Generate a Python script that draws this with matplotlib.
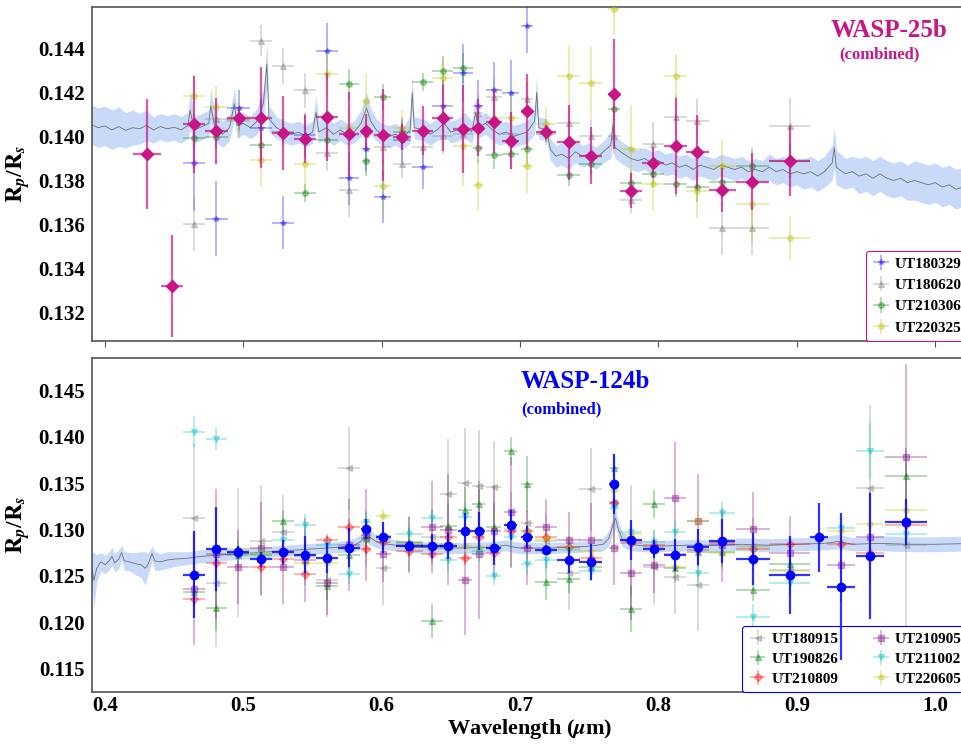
import matplotlib
matplotlib.use("Agg")
import matplotlib.pyplot as plt
import numpy as np

nan = np.nan

# ---------------- WASP-25b (top panel) ----------------
w25_wl = [0.4304, 0.4484, 0.4646, 0.4805, 0.4966, 0.5125, 0.5284, 0.5446, 0.5605, 0.5764,
          0.5887, 0.6007, 0.6147, 0.6297, 0.6441, 0.6586, 0.6699, 0.6810, 0.6931, 0.7051,
          0.7189, 0.7350, 0.7509, 0.7678, 0.7803, 0.7962, 0.8124, 0.8280, 0.8461, 0.8678,
          0.8948]
w25_xerr = [0.0103, 0.0080, 0.0080, 0.0084, 0.0084, 0.0080, 0.0080, 0.0080, 0.0080, 0.0072,
            0.0031, 0.0060, 0.0067, 0.0075, 0.0075, 0.0072, 0.0036, 0.0060, 0.0060, 0.0045,
            0.0072, 0.0080, 0.0084, 0.0042, 0.0080, 0.0080, 0.0082, 0.0082, 0.0097, 0.0120,
            0.0147]
w25_comb = [0.13921, 0.13320, 0.14055, 0.14024, 0.14086, 0.14085, 0.14016, 0.13988, 0.14088, 0.14012,
            0.14023, 0.14006, 0.13998, 0.14027, 0.14083, 0.14032, 0.14039, 0.14066, 0.13980, 0.14115,
            0.14020, 0.13974, 0.13912, 0.14192, 0.13753, 0.13880, 0.13957, 0.13929, 0.13756, 0.13794,
            0.13888]
w25_comb_err = [0.0025, 0.0023, 0.0022, 0.0015, 0.0004, 0.0023, 0.0017, 0.0011, 0.0020, 0.0019,
                0.0008, 0.0021, 0.0006, 0.0011, 0.0015, 0.0020, 0.0013, 0.0014, 0.0013, 0.0017,
                0.0003, 0.0017, 0.0013, 0.0025, 0.0008, 0.0007, 0.0022, 0.0017, 0.0010, 0.0013,
                0.0016]

w25_nights = ["UT180329", "UT180620", "UT210306", "UT220325"]
w25_colors = ["blue", "grey", "green", "y"]
w25_markers = ["*", "^", "o", "o"]
w25_vals = [
    [nan, nan, 0.13880, 0.13626, 0.14130, 0.14039, 0.13607, 0.14006, 0.14388, 0.13810,
     0.13942, 0.13725, 0.13983, 0.13862, 0.14138, 0.14289, 0.14138, 0.14210, 0.14198, 0.14501,
     nan, nan, nan, nan, nan, nan, nan, nan, nan, nan, nan],
    [nan, nan, 0.13601, 0.14080, 0.14070, 0.14435, 0.14321, 0.14210, 0.13925, 0.13755,
     0.14010, 0.13953, 0.13873, 0.13953, 0.14000, 0.14010, 0.14107, 0.14180, 0.14010, 0.14170,
     0.14020, 0.14062, 0.14000, 0.14000, 0.13710, 0.13965, 0.14089, 0.14071, 0.13582, 0.13582,
     0.14047],
    [nan, nan, 0.13991, 0.13998, 0.14080, 0.13959, 0.14021, 0.13744, 0.13982, 0.14238,
     0.13889, 0.14180, 0.14020, 0.14248, 0.14298, 0.14312, 0.13948, 0.13914, 0.13920, 0.13945,
     0.14013, 0.13825, 0.13877, 0.14123, 0.13788, 0.13829, 0.13786, 0.13771, 0.13794, 0.13866,
     0.13889],
    [nan, nan, 0.14185, 0.14135, 0.14073, 0.13892, nan, 0.13875, 0.14286, 0.14040,
     0.14162, 0.13774, 0.14040, nan, 0.14264, 0.13956, 0.13779, 0.14082, 0.14082, 0.13865,
     0.14056, 0.14275, 0.14245, 0.14582, 0.13941, 0.13782, 0.14274, 0.13751, 0.13866, 0.13692,
     0.13536],
]
w25_errs = [
    [nan, nan, 0.0022, 0.0017, 0.0008, 0.0013, 0.0012, 0.0010, 0.0013, 0.0012,
     0.0010, 0.0012, 0.0010, 0.0010, 0.0012, 0.0013, 0.0012, 0.0013, 0.0015, 0.0012,
     nan, nan, nan, nan, nan, nan, nan, nan, nan, nan, nan],
    [nan, nan, 0.0012, 0.0008, 0.0006, 0.0007, 0.0008, 0.0008, 0.0008, 0.0012,
     0.0006, 0.0008, 0.0006, 0.0008, 0.0008, 0.0008, 0.0008, 0.0008, 0.0008, 0.0008,
     0.0006, 0.0008, 0.0008, 0.0008, 0.0006, 0.0010, 0.0010, 0.0010, 0.0012, 0.0012,
     0.0013],
    [nan, nan, 0.0005, 0.0005, 0.0005, 0.0007, 0.0006, 0.0004, 0.0005, 0.0007,
     0.0007, 0.0006, 0.0005, 0.0004, 0.0007, 0.0007, 0.0007, 0.0006, 0.0007, 0.0007,
     0.0004, 0.0005, 0.0005, 0.0005, 0.0006, 0.0006, 0.0006, 0.0007, 0.0008, 0.0008,
     0.0008],
    [nan, nan, 0.0010, 0.0010, 0.0008, 0.0012, nan, 0.0012, 0.0010, 0.0010,
     0.0012, 0.0012, 0.0008, nan, 0.0008, 0.0018, 0.0012, 0.0012, 0.0012, 0.0012,
     0.0008, 0.0014, 0.0016, 0.0012, 0.0020, 0.0012, 0.0010, 0.0012, 0.0012, 0.0018,
     0.0010],
]

w25_mod_wl = [0.390, 0.395, 0.400, 0.405, 0.410, 0.415, 0.420, 0.425, 0.430, 0.435,
              0.440, 0.445, 0.450, 0.455, 0.460, 0.4615, 0.4645, 0.470, 0.475, 0.4765,
              0.4795, 0.485, 0.490, 0.4935, 0.4955, 0.500, 0.505, 0.510, 0.5145, 0.517,
              0.5185, 0.524, 0.530, 0.535, 0.540, 0.545, 0.550, 0.5525, 0.5545, 0.560,
              0.565, 0.570, 0.575, 0.580, 0.585, 0.589, 0.592, 0.596, 0.600, 0.605,
              0.610, 0.615, 0.6205, 0.622, 0.6235, 0.630, 0.635, 0.640, 0.645, 0.650,
              0.655, 0.660, 0.665, 0.668, 0.6695, 0.675, 0.680, 0.685, 0.690, 0.695,
              0.700, 0.705, 0.7105, 0.712, 0.7135, 0.719, 0.722, 0.726, 0.730, 0.735,
              0.740, 0.745, 0.750, 0.755, 0.760, 0.7655, 0.767, 0.7685, 0.775, 0.780,
              0.785, 0.790, 0.795, 0.800, 0.805, 0.810, 0.815, 0.820, 0.825, 0.830,
              0.835, 0.840, 0.845, 0.850, 0.855, 0.860, 0.865, 0.870, 0.875, 0.880,
              0.885, 0.890, 0.895, 0.900, 0.905, 0.910, 0.915, 0.920, 0.9255, 0.927,
              0.9285, 0.935, 0.940, 0.945, 0.950, 0.955, 0.960, 0.965, 0.970, 0.975,
              0.980, 0.985, 0.990, 0.995, 1.000, 1.005, 1.010, 1.015, 1.020, 1.030]
w25_mod = [0.14055, 0.14040, 0.14048, 0.14030, 0.14045, 0.14028, 0.14040, 0.14035, 0.14050, 0.14030,
           0.14045, 0.14035, 0.14042, 0.14030, 0.14050, 0.14120, 0.14030, 0.14045, 0.14060, 0.14140,
           0.14040, 0.14010, 0.14040, 0.14150, 0.14050, 0.14060, 0.14040, 0.14070, 0.14150, 0.14330,
           0.14080, 0.14040, 0.14020, 0.14010, 0.14020, 0.14000, 0.14020, 0.14110, 0.14020, 0.14040,
           0.14010, 0.14030, 0.14010, 0.14020, 0.14060, 0.14130, 0.14070, 0.14030, 0.14010, 0.14000,
           0.14010, 0.13990, 0.14030, 0.14200, 0.14040, 0.14030, 0.14010, 0.14030, 0.14060, 0.14020,
           0.14030, 0.14050, 0.14020, 0.14110, 0.14040, 0.14060, 0.14030, 0.14010, 0.14020, 0.14000,
           0.14010, 0.14020, 0.14070, 0.14200, 0.14040, 0.14030, 0.13940, 0.13910, 0.13920, 0.13900,
           0.13930, 0.13910, 0.13920, 0.13900, 0.13930, 0.13960, 0.14050, 0.13950, 0.13920, 0.13900,
           0.13890, 0.13900, 0.13880, 0.13890, 0.13870, 0.13880, 0.13860, 0.13870, 0.13850, 0.13870,
           0.13860, 0.13850, 0.13870, 0.13860, 0.13850, 0.13860, 0.13840, 0.13850, 0.13840, 0.13860,
           0.13840, 0.13850, 0.13830, 0.13840, 0.13830, 0.13840, 0.13820, 0.13840, 0.13880, 0.13950,
           0.13860, 0.13830, 0.13840, 0.13820, 0.13830, 0.13810, 0.13830, 0.13810, 0.13800, 0.13810,
           0.13790, 0.13800, 0.13790, 0.13780, 0.13790, 0.13770, 0.13780, 0.13760, 0.13770, 0.13750]
w25_mod_err = [0.0009, 0.0009, 0.0009, 0.0009, 0.0009, 0.0008, 0.0008, 0.0007, 0.0007, 0.0006,
               0.0006, 0.0006, 0.0006, 0.0006, 0.0006, 0.0009, 0.0006, 0.0006, 0.0006, 0.0008,
               0.0006, 0.0006, 0.0006, 0.0007, 0.0006, 0.0005, 0.0005, 0.0006, 0.0007, 0.0010,
               0.0006, 0.0005, 0.0005, 0.0005, 0.0005, 0.0005, 0.0005, 0.0007, 0.0005, 0.0005,
               0.0005, 0.0005, 0.0005, 0.0005, 0.0006, 0.0007, 0.0006, 0.0005, 0.0005, 0.0005,
               0.0005, 0.0005, 0.0006, 0.0008, 0.0005, 0.0005, 0.0005, 0.0005, 0.0006, 0.0005,
               0.0005, 0.0006, 0.0005, 0.0007, 0.0005, 0.0005, 0.0005, 0.0005, 0.0005, 0.0005,
               0.0005, 0.0005, 0.0006, 0.0008, 0.0005, 0.0005, 0.0005, 0.0005, 0.0005, 0.0005,
               0.0005, 0.0005, 0.0005, 0.0005, 0.0005, 0.0006, 0.0007, 0.0005, 0.0005, 0.0005,
               0.0005, 0.0005, 0.0005, 0.0005, 0.0005, 0.0005, 0.0005, 0.0005, 0.0005, 0.0005,
               0.0005, 0.0005, 0.0005, 0.0005, 0.0005, 0.0005, 0.0005, 0.0005, 0.0005, 0.0006,
               0.0006, 0.0006, 0.0006, 0.0006, 0.0007, 0.0007, 0.0007, 0.0007, 0.0008, 0.0009,
               0.0008, 0.0007, 0.0007, 0.0008, 0.0008, 0.0008, 0.0008, 0.0008, 0.0008, 0.0008,
               0.0008, 0.0009, 0.0009, 0.0009, 0.0009, 0.0009, 0.0009, 0.0009, 0.0009, 0.0009]

# ---------------- WASP-124b (bottom panel) ----------------
w124_wl = [0.4644, 0.4805, 0.4964, 0.5125, 0.5284, 0.5446, 0.5605, 0.5764, 0.5889, 0.6012,
           0.6200, 0.6362, 0.6482, 0.6600, 0.6701, 0.6810, 0.6931, 0.7051, 0.7189, 0.7350,
           0.7509, 0.7678, 0.7803, 0.7965, 0.8121, 0.8283, 0.8459, 0.8683, 0.8948, 0.9160,
           0.9319, 0.9529, 0.9787]
w124_xerr = [0.0080, 0.0076, 0.0080, 0.0080, 0.0080, 0.0080, 0.0080, 0.0080, 0.0036, 0.0054,
             0.0096, 0.0080, 0.0060, 0.0050, 0.0046, 0.0054, 0.0045, 0.0042, 0.0080, 0.0080,
             0.0080, 0.0034, 0.0080, 0.0080, 0.0080, 0.0080, 0.0095, 0.0120, 0.0147, 0.0066,
             0.0100, 0.0100, 0.0150]
w124_comb = [0.12509, 0.12790, 0.12757, 0.12678, 0.12761, 0.12728, 0.12692, 0.12804, 0.13003, 0.12916,
             0.12826, 0.12822, 0.12822, 0.12984, 0.12984, 0.12804, 0.13049, 0.12923, 0.12782, 0.12667,
             0.12649, 0.13492, 0.12887, 0.12787, 0.12725, 0.12811, 0.12876, 0.12685, 0.12505, 0.12916,
             0.12383, 0.12718, 0.13078]
w124_comb_err = [0.0047, 0.0045, 0.0006, 0.0008, 0.0013, 0.0020, 0.0016, 0.0021, 0.0011, 0.0017,
                 0.0005, 0.0013, 0.0014, 0.0019, 0.0021, 0.0019, 0.0016, 0.0012, 0.0005, 0.0014,
                 0.0019, 0.0032, 0.0022, 0.0010, 0.0017, 0.0019, 0.0024, 0.0028, 0.0042, 0.0037,
                 0.0079, 0.0068, 0.0025]

w124_nights = ["UT180915", "UT190826", "UT210809", "UT210905", "UT211002", "UT220605"]
w124_colors = ["grey", "green", "red", "purple", "c", "y"]
w124_markers = ["<", "^", "D", "s", "v", "p"]
w124_vals = [
    [0.13125, 0.12426, 0.12750, 0.12876, 0.12977, 0.12700, 0.12450, 0.13661, 0.12900, 0.12581,
     0.12850, 0.12920, 0.13381, 0.13499, 0.13470, 0.13460, 0.13000, 0.13067, 0.12880, 0.12527,
     0.13435, 0.13300, 0.12880, 0.12590, 0.12490, 0.12401, 0.12870, 0.12820, 0.12563, nan,
     nan, 0.13449, 0.12833],
    [0.12322, 0.12152, 0.12725, 0.12720, 0.13092, 0.12720, 0.12393, 0.12722, 0.12910, 0.12930,
     0.12870, 0.12012, 0.13041, 0.13211, 0.13276, 0.13031, 0.13848, 0.13489, 0.12436, 0.12466,
     0.12598, 0.13668, 0.12138, 0.13276, 0.12580, 0.12760, 0.12754, 0.12347, 0.12631, nan,
     nan, nan, 0.13578],
    [0.12246, 0.12642, 0.12750, 0.12598, 0.12682, 0.12523, 0.12884, 0.13031, 0.12790, 0.12862,
     0.12768, 0.12732, 0.12923, 0.12689, 0.12920, 0.12743, 0.12980, 0.12980, 0.12923, 0.12810,
     0.12696, 0.13283, 0.12851, 0.12830, 0.12730, 0.12780, 0.12851, 0.12790, 0.12843, nan,
     0.12840, 0.12750, 0.13049],
    [0.12354, 0.12736, 0.12595, 0.12797, 0.12592, 0.12671, 0.12426, 0.12830, 0.12941, 0.12736,
     0.12830, 0.13027, 0.12995, 0.12455, 0.12736, 0.12984, 0.13186, 0.12800, 0.13031, 0.12887,
     0.12887, 0.12797, 0.12527, 0.12617, 0.13344, 0.13095, 0.12830, 0.13009, 0.12743, nan,
     0.12614, 0.12919, 0.13787],
    [0.14057, 0.13975, 0.12730, 0.12730, 0.12890, 0.13045, 0.12830, 0.12516, 0.13078, 0.12900,
     0.12949, 0.13121, 0.12674, 0.13139, 0.12771, 0.12501, 0.12923, 0.12624, 0.12671, 0.12780,
     0.12552, 0.13229, 0.12977, 0.12870, 0.12973, 0.12527, 0.13175, 0.12050, 0.12426, nan,
     0.13020, 0.13848, 0.12949],
    [nan, nan, 0.12790, 0.12750, 0.12730, 0.12635, 0.12635, 0.12800, 0.13000, 0.13146,
     0.12840, 0.12830, 0.12840, 0.12820, 0.12810, 0.12830, 0.13050, 0.12980, 0.12900, 0.12800,
     0.12770, 0.13427, 0.12950, 0.12800, 0.12598, 0.13095, 0.12750, 0.12800, 0.12550, nan,
     0.12980, 0.13060, 0.13211],
]
w124_errs = [
    [0.0080, 0.0070, 0.0070, 0.0060, 0.0040, 0.0030, 0.0040, 0.0045, 0.0030, 0.0040,
     0.0030, 0.0030, 0.0060, 0.0060, 0.0060, 0.0050, 0.0040, 0.0040, 0.0030, 0.0040,
     0.0045, 0.0050, 0.0060, 0.0040, 0.0040, 0.0050, 0.0030, 0.0030, 0.0030, nan,
     nan, 0.0090, 0.0090],
    [0.0015, 0.0025, 0.0015, 0.0015, 0.0012, 0.0015, 0.0015, 0.0015, 0.0015, 0.0015,
     0.0015, 0.0018, 0.0025, 0.0025, 0.0025, 0.0025, 0.0015, 0.0030, 0.0020, 0.0015,
     0.0015, 0.0015, 0.0025, 0.0015, 0.0015, 0.0015, 0.0015, 0.0012, 0.0012, nan,
     nan, nan, 0.0030],
    [0.0007, 0.0007, 0.0007, 0.0007, 0.0007, 0.0007, 0.0007, 0.0008, 0.0007, 0.0007,
     0.0007, 0.0007, 0.0007, 0.0007, 0.0007, 0.0007, 0.0007, 0.0007, 0.0007, 0.0007,
     0.0007, 0.0007, 0.0007, 0.0007, 0.0007, 0.0007, 0.0007, 0.0007, 0.0007, nan,
     0.0007, 0.0008, 0.0008],
    [0.0060, 0.0070, 0.0040, 0.0050, 0.0040, 0.0045, 0.0035, 0.0050, 0.0050, 0.0030,
     0.0030, 0.0050, 0.0060, 0.0060, 0.0070, 0.0050, 0.0060, 0.0040, 0.0030, 0.0030,
     0.0040, 0.0040, 0.0050, 0.0030, 0.0060, 0.0050, 0.0040, 0.0040, 0.0040, nan,
     0.0040, 0.0050, 0.0100],
    [0.0017, 0.0012, 0.0010, 0.0010, 0.0010, 0.0012, 0.0010, 0.0010, 0.0010, 0.0010,
     0.0010, 0.0010, 0.0012, 0.0015, 0.0012, 0.0010, 0.0012, 0.0012, 0.0010, 0.0010,
     0.0010, 0.0012, 0.0012, 0.0012, 0.0012, 0.0010, 0.0012, 0.0015, 0.0015, nan,
     0.0012, 0.0030, 0.0015],
    [nan, nan, 0.0008, 0.0008, 0.0008, 0.0008, 0.0008, 0.0008, 0.0008, 0.0008,
     0.0008, 0.0008, 0.0008, 0.0008, 0.0008, 0.0008, 0.0008, 0.0008, 0.0008, 0.0008,
     0.0008, 0.0008, 0.0008, 0.0008, 0.0008, 0.0008, 0.0008, 0.0008, 0.0008, nan,
     0.0008, 0.0010, 0.0010],
]

w124_mod_wl = [0.390, 0.392, 0.394, 0.397, 0.400, 0.403, 0.405, 0.407, 0.410, 0.412,
               0.414, 0.418, 0.422, 0.426, 0.429, 0.431, 0.434, 0.436, 0.440, 0.445,
               0.450, 0.460, 0.470, 0.480, 0.490, 0.500, 0.510, 0.520, 0.530, 0.540,
               0.550, 0.560, 0.570, 0.580, 0.585, 0.589, 0.592, 0.596, 0.600, 0.610,
               0.620, 0.640, 0.660, 0.680, 0.690, 0.695, 0.700, 0.720, 0.740, 0.750,
               0.760, 0.764, 0.767, 0.769, 0.771, 0.774, 0.780, 0.790, 0.800, 0.820,
               0.840, 0.860, 0.880, 0.900, 0.920, 0.930, 0.940, 0.960, 0.980, 1.000,
               1.030]
w124_mod = [0.1263, 0.1245, 0.1258, 0.1265, 0.1262, 0.1266, 0.1271, 0.1264, 0.1268, 0.1275,
            0.1266, 0.1265, 0.1263, 0.1262, 0.1258, 0.1262, 0.1274, 0.1266, 0.1265, 0.1267,
            0.1268, 0.1269, 0.1271, 0.1272, 0.1273, 0.1274, 0.1275, 0.1276, 0.1277, 0.1278,
            0.1279, 0.1280, 0.1281, 0.1283, 0.1287, 0.1294, 0.1291, 0.1287, 0.1285, 0.1283,
            0.1281, 0.1280, 0.1280, 0.1281, 0.1283, 0.1281, 0.1280, 0.1280, 0.1281, 0.1282,
            0.1284, 0.1290, 0.1305, 0.1312, 0.1300, 0.1289, 0.1284, 0.1282, 0.1282, 0.1283,
            0.1283, 0.1284, 0.1283, 0.1284, 0.1285, 0.1287, 0.1284, 0.1285, 0.1284, 0.1284,
            0.1285]
w124_mod_err = [0.0012, 0.0030, 0.0015, 0.0010, 0.0010, 0.0010, 0.0010, 0.0010, 0.0010, 0.0008,
                0.0010, 0.0010, 0.0012, 0.0014, 0.0018, 0.0012, 0.0008, 0.0010, 0.0009, 0.0009,
                0.0008, 0.0007, 0.0007, 0.0007, 0.0006, 0.0006, 0.0006, 0.0006, 0.0006, 0.0006,
                0.0006, 0.0006, 0.0006, 0.0007, 0.0008, 0.0009, 0.0008, 0.0007, 0.0006, 0.0006,
                0.0006, 0.0006, 0.0006, 0.0006, 0.0006, 0.0006, 0.0006, 0.0006, 0.0006, 0.0006,
                0.0007, 0.0008, 0.0010, 0.0010, 0.0009, 0.0008, 0.0007, 0.0006, 0.0006, 0.0006,
                0.0006, 0.0007, 0.0007, 0.0007, 0.0007, 0.0008, 0.0007, 0.0008, 0.0008, 0.0008,
                0.0008]

plt.rcParams['font.family'] = ['Liberation Serif', 'DejaVu Serif']
plt.rcParams['font.weight'] = 'bold'
plt.rcParams['mathtext.fontset'] = 'stix'

MAGENTA = '#c71585'
SPINE = '#555555'

fig = plt.figure(figsize=(9.62, 7.45), dpi=100)
ax1 = fig.add_axes([0.0956, 0.5427, 0.9104, 0.4479])
ax2 = fig.add_axes([0.0956, 0.0715, 0.9104, 0.4480])


def draw_model(ax, wl, val, err):
    wl = np.array(wl)
    val = np.array(val)
    err = np.array(err)
    ax.fill_between(wl, val - err, val + err, color='cornflowerblue', alpha=0.35,
                    lw=0, zorder=1)
    ax.plot(wl, val, color='#555555', lw=0.6, alpha=0.8, zorder=2)


def draw_nights(ax, wl, xerr, vals, errs, names, colors, markers):
    for v, e, n, c, m in zip(vals, errs, names, colors, markers):
        ax.errorbar(wl, v, yerr=e, xerr=xerr, fmt=m, color=c, ms=4, elinewidth=1.2,
                    alpha=0.35, label=n, zorder=3)


def style_axes(ax, yticks, ylim, xtick_len):
    ax.set_xlim(0.3906, 1.0235)
    ax.set_ylim(*ylim)
    ax.set_yticks(yticks)
    ax.yaxis.set_major_formatter(matplotlib.ticker.FormatStrFormatter('%.3f'))
    ax.set_xticks([0.4, 0.5, 0.6, 0.7, 0.8, 0.9, 1.0])
    ax.xaxis.set_major_formatter(matplotlib.ticker.FormatStrFormatter('%.1f'))
    for s in ax.spines.values():
        s.set_color(SPINE)
        s.set_linewidth(1.2)
    ax.tick_params(axis='y', length=0, labelsize=15, pad=5)
    ax.tick_params(axis='x', length=xtick_len, color=SPINE, labelsize=15, pad=3)
    for lab in ax.get_xticklabels() + ax.get_yticklabels():
        lab.set_fontweight('bold')
    ax.set_ylabel(r'$\mathbf{R}_{p}$/$\mathbf{R}_{s}$', fontsize=17, fontweight='bold')
    ax.yaxis.set_label_coords(-0.068, 0.5)


# top panel
draw_model(ax1, w25_mod_wl, w25_mod, w25_mod_err)
draw_nights(ax1, w25_wl, w25_xerr, w25_vals, w25_errs, w25_nights, w25_colors, w25_markers)
ax1.errorbar(w25_wl, w25_comb, yerr=w25_comb_err, xerr=w25_xerr, fmt='none',
             ecolor=MAGENTA, elinewidth=1.6, alpha=0.7, zorder=4)
ax1.plot(w25_wl, w25_comb, 'D', color=MAGENTA, ms=6.5, zorder=5)
style_axes(ax1, np.arange(0.132, 0.1441, 0.002), (0.13071, 0.14589), 4)
ax1.tick_params(axis='x', labelbottom=False)
ax1.text(0.91, 0.93, 'WASP-25b', transform=ax1.transAxes, color=MAGENTA,
         fontsize=18, fontweight='bold', ha='center', va='center')
ax1.text(0.899, 0.858, '(combined)', transform=ax1.transAxes, color=MAGENTA,
         fontsize=12, fontweight='bold', ha='center', va='center')
leg1 = ax1.legend(loc='lower right', borderaxespad=0, borderpad=0.4,
                  labelspacing=0.5, handlelength=1.2, handletextpad=0.3,
                  fancybox=True, framealpha=1, prop={'weight': 'bold', 'size': 11})
leg1.get_frame().set_edgecolor(MAGENTA)
leg1.get_frame().set_linewidth(0.8)

# bottom panel
draw_model(ax2, w124_mod_wl, w124_mod, w124_mod_err)
draw_nights(ax2, w124_wl, w124_xerr, w124_vals, w124_errs, w124_nights, w124_colors, w124_markers)
ax2.errorbar(w124_wl, w124_comb, yerr=w124_comb_err, xerr=w124_xerr, fmt='none',
             ecolor='blue', elinewidth=1.6, alpha=0.8, zorder=6)
ax2.plot(w124_wl, w124_comb, 'o', color='blue', ms=6, zorder=7)
style_axes(ax2, np.arange(0.115, 0.1451, 0.005), (0.11247, 0.14853), 0)
ax2.set_xlabel(r'Wavelength ($\mu$m)', fontsize=16, fontweight='bold', labelpad=1)
ax2.text(0.563, 0.929, 'WASP-124b', transform=ax2.transAxes, color='blue',
         fontsize=18, fontweight='bold', ha='center', va='center')
ax2.text(0.4897, 0.847, '(combined)', transform=ax2.transAxes, color='blue',
         fontsize=12, fontweight='bold', ha='left', va='center')
leg2 = ax2.legend(loc='lower right', ncol=2, borderaxespad=0, borderpad=0.4,
                  labelspacing=0.4, handlelength=1.2, handletextpad=0.3,
                  columnspacing=2.2, fancybox=True, framealpha=1,
                  prop={'weight': 'bold', 'size': 11})
leg2.get_frame().set_edgecolor('blue')
leg2.get_frame().set_linewidth(0.8)
leg2.set_zorder(5)

fig.savefig('out.png', dpi=100)
